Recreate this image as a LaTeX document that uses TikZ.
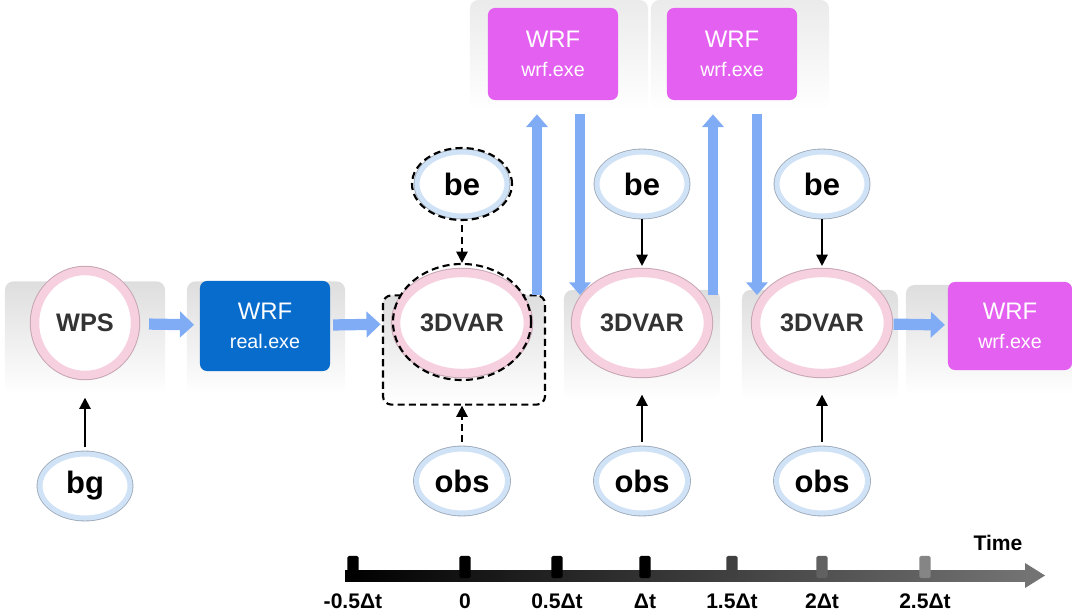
\documentclass[tikz,border=0pt]{standalone}
\usepackage{fontspec}
\setmainfont{Liberation Sans}
\usetikzlibrary{shapes.geometric,arrows.meta,positioning}
\definecolor{wrfblue}{RGB}{8,108,204}
\definecolor{wrfpink}{RGB}{228,96,240}
\definecolor{flowblue}{RGB}{128,172,246}
\definecolor{ringpink}{RGB}{247,208,224}
\definecolor{ringblue}{RGB}{208,226,246}
\newcommand{\exename}[1]{{\fontsize{14}{16}\selectfont #1}}
\tikzset{
	panel/.style={rounded corners=6pt, top color=black!13, bottom color=white, draw=none},
	pinkring/.style={ellipse, fill=white, preaction={draw=ringpink!80!black, line width=7.4pt}, draw=ringpink, line width=6pt, text=black!80, font=\bfseries\fontsize{18}{18}\selectfont},
	bluering/.style={ellipse, fill=white, preaction={draw=ringblue!75!black, line width=4.8pt}, draw=ringblue, line width=3.6pt, minimum width=2.25cm, minimum height=1.6cm, font=\bfseries\fontsize{22}{22}\selectfont},
	wrfbox/.style={rounded corners=5pt, minimum width=3.25cm, minimum height=2.25cm, text=white, align=center, font=\fontsize{17}{21}\selectfont},
	flow/.style={draw=flowblue, line width=8pt, -{Triangle[width=18pt,length=10pt]}},
	vflow/.style={draw=flowblue, line width=6.5pt, -{Triangle[width=15pt,length=9pt]}},
	feed/.style={draw=black, line width=1.4pt, -{Triangle[width=8pt,length=8pt]}},
	ring dash/.style={draw=black, line width=1.5pt, dash pattern=on 5pt off 3pt},
	tickmark/.style={rounded corners=1pt, minimum width=0.28cm, minimum height=0.55cm, inner sep=0pt},
	ticklabel/.style={font=\bfseries\fontsize{15}{15}\selectfont, below=0.55cm}
}
\begin{document}
\begin{tikzpicture}[x=0.025cm, y=-0.025cm]
	\useasboundingbox (0,0) rectangle (1072,616);
	\node[panel, minimum width=4cm, minimum height=2.83cm] (pwps) at (85,338) {};
	\node[panel, minimum width=3.95cm, minimum height=2.83cm] (preal) at (266,338) {};
	\node[panel, ring dash, minimum width=4.05cm, minimum height=2.73cm] (pvarA) at (464,350) {};
	\node[panel, minimum width=3.9cm, minimum height=2.75cm] (pvarB) at (642,345) {};
	\node[panel, minimum width=3.9cm, minimum height=2.75cm] (pvarC) at (820,345) {};
	\node[panel, minimum width=4.2cm, minimum height=2.75cm] (pend) at (990,340) {};
	\node[panel, top color=black!8, minimum width=4.45cm, minimum height=2.75cm] (ptopA) at (559,55) {};
	\node[panel, top color=black!8, minimum width=4.45cm, minimum height=2.75cm] (ptopB) at (740,55) {};

	\node[pinkring, minimum width=2.5cm, minimum height=2.6cm] (wps) at (85,323) {WPS};
	\node[wrfbox, fill=wrfblue] (real) at (265,326) {WRF\\\exename{real.exe}};
	\node[pinkring, minimum width=3.2cm, minimum height=2.5cm] (varA) at (462,323) {3DVAR};
	\node[pinkring, minimum width=3.2cm, minimum height=2.5cm] (varB) at (642,323) {3DVAR};
	\node[pinkring, minimum width=3.2cm, minimum height=2.5cm] (varC) at (822,323) {3DVAR};
	\node[wrfbox, fill=wrfpink, minimum height=2.3cm] (wrfA) at (553,54) {WRF\\\exename{wrf.exe}};
	\node[wrfbox, fill=wrfpink, minimum height=2.3cm] (wrfB) at (732,54) {WRF\\\exename{wrf.exe}};
	\node[wrfbox, fill=wrfpink, minimum width=3.1cm, minimum height=2.2cm] (wrfC) at (1010,326) {WRF\\\exename{wrf.exe}};

	\node[bluering] (bg) at (85,486) {bg};
	\node[bluering] (beA) at (462,184) {be};
	\node[bluering] (beB) at (642,184) {be};
	\node[bluering] (beC) at (822,184) {be};
	\node[bluering] (obsA) at (462,481) {obs};
	\node[bluering] (obsB) at (642,481) {obs};
	\node[bluering] (obsC) at (822,481) {obs};

	\node[ring dash, ellipse, minimum width=3.45cm, minimum height=2.9cm] (dashvar) at (462,322) {};
	\node[ring dash, ellipse, minimum width=2.5cm, minimum height=1.8cm] (dashbe) at (462,184) {};

	\draw[flow, shorten <=7pt, shorten >=4pt] (wps) -- (real);
	\draw[flow, shorten <=2pt, shorten >=8pt] (real) -- (varA);
	\draw[flow, shorten <=1pt, shorten >=2pt] (varC) -- (wrfC);

	\coordinate (upA) at (537,295);
	\coordinate (downA) at (580,295);
	\coordinate (upB) at (713,295);
	\coordinate (downB) at (757,295);
	\draw[vflow, shorten >=10pt] (upA) -- (upA |- wrfA.south);
	\draw[vflow, shorten <=10pt] (downA |- wrfA.south) -- (downA);
	\draw[vflow, shorten >=10pt] (upB) -- (upB |- wrfB.south);
	\draw[vflow, shorten <=10pt] (downB |- wrfB.south) -- (downB);

	\draw[feed, shorten <=3pt, shorten >=2pt] (bg) -- (bg |- pwps.south);
	\draw[feed, dash pattern=on 5pt off 3pt, shorten <=3pt] (dashbe) -- (dashvar);
	\draw[feed, dash pattern=on 5pt off 3pt, shorten <=3pt] (obsA) -- (obsA |- pvarA.south);
	\draw[feed, shorten >=2pt] (beB) -- (varB);
	\draw[feed, shorten >=2pt] (beC) -- (varC);
	\draw[feed, shorten <=3pt, shorten >=-4pt] (obsB) -- (obsB |- pvarB.south);
	\draw[feed, shorten <=3pt, shorten >=-4pt] (obsC) -- (obsC |- pvarC.south);

	\shade[left color=black, right color=black!55] (345,570) rectangle (1025,581);
	\fill[black!55] (1025,563) -- (1045,575.5) -- (1025,588) -- cycle;
	\node[tickmark, fill=black] (t0) at (353,567) {};
	\node[tickmark, fill=black] (t1) at (465,567) {};
	\node[tickmark, fill=black] (t2) at (557,567) {};
	\node[tickmark, fill=black] (t3) at (645,567) {};
	\node[tickmark, fill=black!75] (t4) at (732,567) {};
	\node[tickmark, fill=black!62] (t5) at (822,567) {};
	\node[tickmark, fill=black!48] (t6) at (925,567) {};
	\node[ticklabel] at (t0) {-0.5Δt};
	\node[ticklabel] at (t1) {0};
	\node[ticklabel] at (t2) {0.5Δt};
	\node[ticklabel] at (t3) {Δt};
	\node[ticklabel] at (t4) {1.5Δt};
	\node[ticklabel] at (t5) {2Δt};
	\node[ticklabel] at (t6) {2.5Δt};
	\node[font=\bfseries\fontsize{15}{15}\selectfont] (time) at (998,543) {Time};
\end{tikzpicture}
\end{document}
